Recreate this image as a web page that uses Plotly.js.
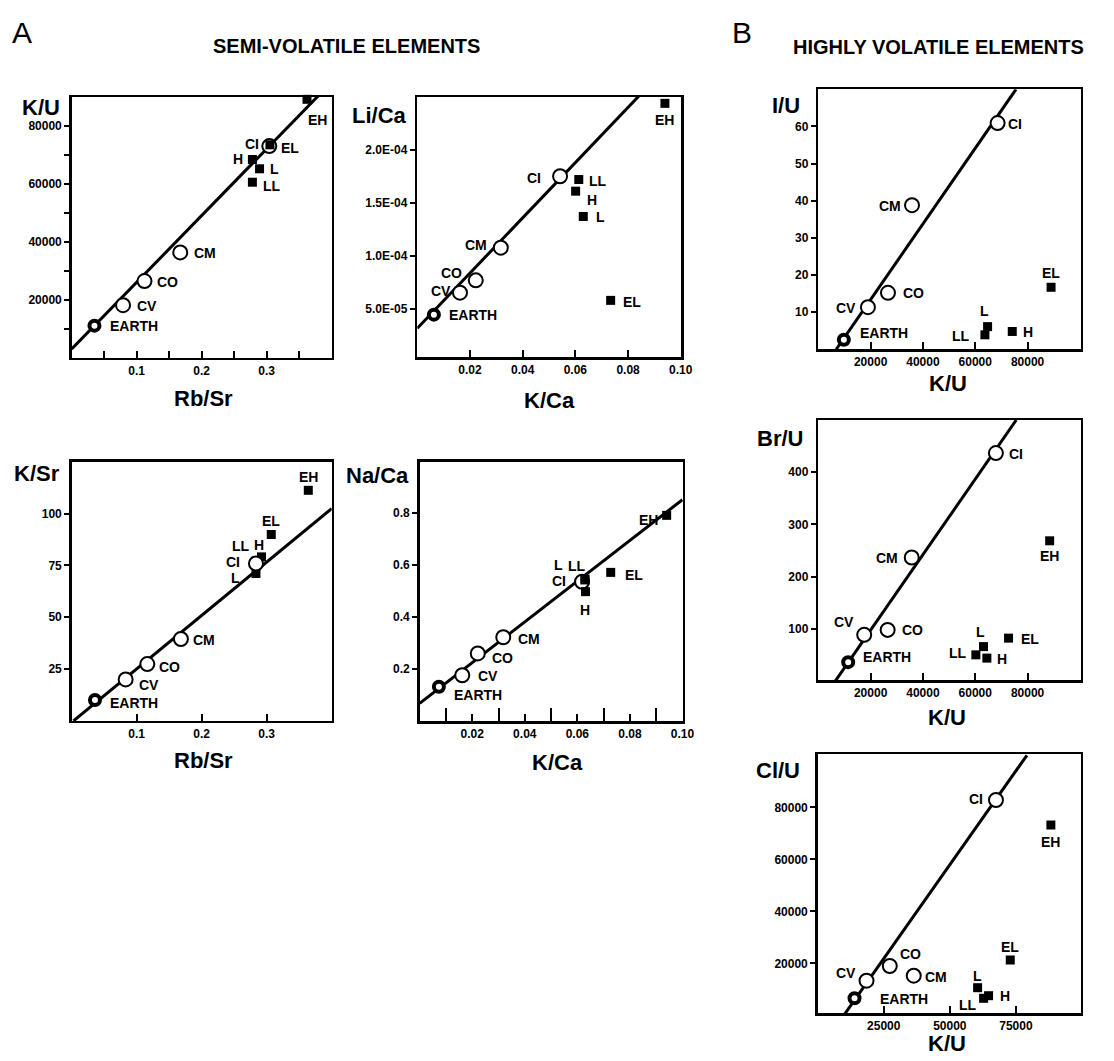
<!DOCTYPE html>
<html><head><meta charset="utf-8">
<script src="https://cdn.plot.ly/plotly-3.0.1.min.js"></script>
<style>html,body{margin:0;padding:0;background:#fff}#chart{width:1114px;height:1061px}</style>
</head><body><div id="chart"></div>
<script>
// ---------------- DATA ----------------
const names  = ['EARTH','CV','CO','CM','CI','H','L','LL','EL','EH'];
const groups = ['earth','carb','carb','carb','carb','ord','ord','ord','ens','ens'];

// A1: K/U vs Rb/Sr
const a1_rbsr = [0.035,0.079,0.112,0.167,0.304,0.278,0.289,0.278,0.305,0.362];
const a1_ku   = [11100,18150,26470,36370,73050,68440,65230,60590,73500,89200];
const a1_fitX = [0, 0.4];
const a1_fitY = [3040, 95160];

// A2: Li/Ca vs K/Ca
const a2_kca  = [0.0063,0.0162,0.0222,0.0317,0.0542,0.0601,0.0630,0.0613,0.0734,0.0940];
const a2_lica = [4.43e-5,6.51e-5,7.67e-5,1.076e-4,1.751e-4,1.61e-4,1.371e-4,1.72e-4,5.78e-5,2.44e-4];
const a2_fitX = [0, 0.1];
const a2_fitY = [3.14e-5, 2.924e-4];

// A3: K/Sr vs Rb/Sr
const a3_rbsr = [0.0358,0.083,0.1163,0.168,0.2835,0.292,0.2835,0.283,0.307,0.364];
const a3_ksr  = [10.1,20.0,27.4,39.5,75.9,79.1,71.1,77.0,89.9,111.2];
const a3_fitX = [0.0027, 0.4];
const a3_fitY = [0, 102.4];

// A4: Na/Ca vs K/Ca
const a4_kca  = [0.0073,0.0162,0.0221,0.0318,0.0618,0.0631,0.0629,0.0629,0.0727,0.0940];
const a4_naca = [0.132,0.176,0.260,0.322,0.535,0.497,0.545,0.542,0.571,0.790];
const a4_fitX = [0, 0.1];
const a4_fitY = [0.068, 0.85];

// B1: I/U vs K/U (no EH)
const b1_ku = [9770,18970,26630,35820,68540,74140,64710,63680,88970,null];
const b1_iu = [2.56,11.35,15.2,38.8,60.9,4.8,6.1,3.9,16.7,null];
const b1_fitX = [6860, 75560];
const b1_fitY = [0, 70];

// B2: Br/U vs K/U
const b2_ku  = [11420,17550,26510,35710,67890,64440,63140,60230,72720,88430];
const b2_bru = [36.2,88.5,98,236.6,436.6,43.9,66,50.2,82.2,268.6];
const b2_fitX = [6500, 75670];
const b2_fitY = [0, 500];

// B3: Cl/U vs K/U
const b3_ku  = [13930,18470,27270,36330,67450,64650,60500,62770,72850,88220];
const b3_clu = [6540,13310,18960,15230,82810,7540,10620,6540,21270,73190];
const b3_fitX = [9890, 79150];
const b3_fitY = [0, 100000];

// tick labels
const tRbSr = [0.1,0.2,0.3], tRbSrText = ['0.1','0.2','0.3'];
const tRbSrMinor = [0.05,0.15,0.25,0.35];
const tKU1 = [20000,40000,60000,80000], tKU1Text = ['20000','40000','60000','80000'];
const tKU1Minor = [10000,30000,50000,70000];
const tKCa = [0.02,0.04,0.06,0.08,0.1], tKCaText = ['0.02','0.04','0.06','0.08','0.10'];
const tKCaMinor = [0.01,0.03,0.05,0.07,0.09];
const tLiCa = [5e-5,1e-4,1.5e-4,2e-4], tLiCaText = ['5.0E-05','1.0E-04','1.5E-04','2.0E-04'];
const tKSr = [25,50,75,100], tKSrText = ['25','50','75','100'];
const tNaCa = [0.2,0.4,0.6,0.8], tNaCaText = ['0.2','0.4','0.6','0.8'];
const tKU = [20000,40000,60000,80000], tKUText = ['20000','40000','60000','80000'];
const tIU = [10,20,30,40,50,60], tIUText = ['10','20','30','40','50','60'];
const tBrU = [100,200,300,400], tBrUText = ['100','200','300','400'];
const tKU3 = [25000,50000,75000], tKU3Text = ['25000','50000','75000'];
const tClU = [20000,40000,60000,80000], tClUText = ['20000','40000','60000','80000'];

// ---------------- STYLE / LAYOUT ----------------
const W = 1114, H = 1061;
const FONT = 'Liberation Sans, Arial, Helvetica, sans-serif';
const xd = (a,b) => [a/W, b/W];
const yd = (top,bot) => [1-bot/H, 1-top/H];

// label offsets (px): [dx, dy(down), anchor]
const lab = {
 a1:{EARTH:[14,0,'left'],CV:[12,1,'left'],CO:[10,1,'left'],CM:[12,1,'left'],CI:[-8,-2,'right'],EL:[9,3,'left'],H:[-7,0,'right'],L:[8,0,'left'],LL:[9,4,'left'],EH:[10,21,'center']},
 a2:{EARTH:[13,0,'left'],CV:[-7,-2,'right'],CO:[-12,-7,'right'],CM:[-12,-3,'right'],CI:[-17,2,'right'],LL:[8,1,'left'],H:[9,9,'left'],L:[11,1,'left'],EL:[10,2,'left'],EH:[0,17,'center']},
 a3:{EARTH:[13,3,'left'],CV:[11,6,'left'],CO:[10,3,'left'],CM:[10,1,'left'],CI:[-14,-2,'right'],L:[-14,5,'right'],LL:[-15,-15,'center'],H:[-3,-12,'center'],EL:[0,-13,'center'],EH:[0,-13,'center']},
 a4:{EARTH:[13,8,'left'],CV:[14,1,'left'],CO:[12,5,'left'],CM:[13,2,'left'],CI:[-14,-1,'right'],LL:[-8,-14,'center'],L:[-26,-14,'center'],H:[0,18,'center'],EL:[12,3,'left'],EH:[-7,5,'right']},
 b1:{EARTH:[14,-7,'left'],CV:[-10,1,'right'],CO:[13,0,'left'],CM:[-9,1,'right'],CI:[8,1,'left'],L:[-3,-16,'center'],LL:[-13,1,'right'],H:[9,1,'left'],EL:[0,-14,'center']},
 b2:{EARTH:[13,-5,'left'],CV:[-8,-13,'right'],CO:[12,0,'left'],CM:[-12,0,'right'],CI:[11,1,'left'],EH:[0,15,'center'],EL:[10,1,'left'],L:[-3,-15,'center'],LL:[-7,-2,'right'],H:[8,1,'left']},
 b3:{EARTH:[23,1,'left'],CV:[-9,-8,'right'],CO:[8,-12,'left'],CM:[9,1,'left'],CI:[-11,-1,'right'],EH:[0,17,'center'],EL:[0,-13,'center'],L:[0,-12,'center'],H:[9,0,'left'],LL:[-5,7,'right']}
};

const panels = [
 {id:'a1', ax:'', x:a1_rbsr, y:a1_ku, fx:a1_fitX, fy:a1_fitY, squaresOnTop:true,
  dx:xd(71.7,331.7), dy:yd(97,357.8), xr:[0,0.4], yr:[0,90000],
  xt:[tRbSr,tRbSrText,tRbSrMinor,7], yt:[tKU1,tKU1Text,tKU1Minor]},
 {id:'a2', ax:'2', x:a2_kca, y:a2_lica, fx:a2_fitX, fy:a2_fitY, squaresOnTop:true,
  dx:xd(417.3,681), dy:yd(97,357.3), xr:[0,0.1001], yr:[4e-6,2.5e-4],
  xt:[tKCa,tKCaText,null], yt:[tLiCa,tLiCaText,null]},
 {id:'a3', ax:'3', x:a3_rbsr, y:a3_ksr, fx:a3_fitX, fy:a3_fitY, squaresOnTop:false,
  dx:xd(71.7,331.7), dy:yd(461.7,720.9), xr:[0,0.4], yr:[0,125],
  xt:[tRbSr,tRbSrText,null], yt:[tKSr,tKSrText,null]},
 {id:'a4', ax:'4', x:a4_kca, y:a4_naca, fx:a4_fitX, fy:a4_fitY, squaresOnTop:true,
  dx:xd(419.7,682.7), dy:yd(461.7,721.1), xr:[0,0.1001], yr:[0,0.996],
  xt:[tKCa,tKCaText,tKCaMinor,13], yt:[tNaCa,tNaCaText,null]},
 {id:'b1', ax:'5', x:b1_ku, y:b1_iu, fx:b1_fitX, fy:b1_fitY, squaresOnTop:true,
  dx:xd(818.3,1080.7), dy:yd(89.3,349.3), xr:[0,100300], yr:[0,70],
  xt:[tKU,tKUText,null], yt:[tIU,tIUText,null]},
 {id:'b2', ax:'6', x:b2_ku, y:b2_bru, fx:b2_fitX, fy:b2_fitY, squaresOnTop:true,
  dx:xd(818.3,1080.7), dy:yd(420,680), xr:[0,100300], yr:[2,500],
  xt:[tKU,tKUText,null], yt:[tBrU,tBrUText,null]},
 {id:'b3', ax:'7', x:b3_ku, y:b3_clu, fx:b3_fitX, fy:b3_fitY, squaresOnTop:true,
  dx:xd(817.7,1080.7), dy:yd(754,1013.3), xr:[0,99500], yr:[770,100500],
  xt:[tKU3,tKU3Text,null], yt:[tClU,tClUText,null]}
];

const traces = [];
const annotations = [];
const layout = {
  width:W, height:H, margin:{l:0,r:0,t:0,b:0},
  paper_bgcolor:'white', plot_bgcolor:'white', showlegend:false,
  font:{family:FONT, color:'black'}
};

function sel(p, grp){
  const xs=[], ys=[];
  names.forEach((n,i)=>{ if(grp.includes(groups[i]) && p.x[i]!=null){ xs.push(p.x[i]); ys.push(p.y[i]); } });
  return [xs, ys];
}

panels.forEach(p=>{
  const xa='x'+p.ax, ya='y'+p.ax;
  const xk='xaxis'+p.ax, yk='yaxis'+p.ax;
  const common = {showline:true, linecolor:'black', linewidth:2.5, mirror:true, showgrid:false, zeroline:false,
    tickcolor:'black', tickwidth:2, tickmode:'array', fixedrange:true,
    tickfont:{family:FONT, size:12, color:'black', weight:'bold'}};
  const xaxis = Object.assign({}, common, {domain:p.dx, range:p.xr, anchor:ya, ticks:'inside', ticklen:7,
    tickvals:p.xt[0], ticktext:p.xt[1]});
  if(p.xt[2]) xaxis.minor = {tickmode:'array', tickvals:p.xt[2], ticks:'inside', ticklen:p.xt[3], tickwidth:2, tickcolor:'black', showgrid:false};
  const yaxis = Object.assign({}, common, {domain:p.dy, range:p.yr, anchor:xa, ticks:'outside', ticklen:5,
    tickvals:p.yt[0], ticktext:p.yt[1]});
  if(p.yt[2]) yaxis.minor = {tickmode:'array', tickvals:p.yt[2], ticks:'outside', ticklen:5, tickwidth:2, tickcolor:'black', showgrid:false};
  layout[xk]=xaxis; layout[yk]=yaxis;

  traces.push({type:'scatter', mode:'lines', x:p.fx, y:p.fy, xaxis:xa, yaxis:ya,
    line:{color:'black', width:3}, hoverinfo:'skip'});
  const [cx,cy] = sel(p,['carb']);
  const [ex,ey] = sel(p,['earth']);
  const [sx,sy] = sel(p,['ord','ens']);
  const circ = {type:'scatter', mode:'markers', x:cx, y:cy, xaxis:xa, yaxis:ya,
    marker:{symbol:'circle', size:14, color:'white', line:{color:'black', width:2}}, cliponaxis:false};
  const earth = {type:'scatter', mode:'markers', x:ex, y:ey, xaxis:xa, yaxis:ya,
    marker:{symbol:'circle', size:10, color:'white', line:{color:'black', width:4}}, cliponaxis:false};
  const sq = {type:'scatter', mode:'markers', x:sx, y:sy, xaxis:xa, yaxis:ya,
    marker:{symbol:'square', size:9, color:'black', line:{width:0}}, cliponaxis:false};
  if(p.squaresOnTop){ traces.push(circ, earth, sq); } else { traces.push(sq, circ, earth); }

  names.forEach((n,i)=>{
    if(p.x[i]==null) return;
    const o = lab[p.id][n]; if(!o) return;
    annotations.push({x:p.x[i], y:p.y[i], xref:xa, yref:ya, text:n, showarrow:false,
      xanchor:o[2], yanchor:'middle', xshift:o[0], yshift:-o[1],
      font:{family:FONT, size:14, color:'black', weight:'bold'}});
  });
});

// axis titles and headers (paper coords from pixel positions)
function ptxt(text, px, py, size, anchor, weight){
  annotations.push({xref:'paper', yref:'paper', x:px/W, y:1-py/H, text:text, showarrow:false,
    xanchor:anchor, yanchor:'middle', font:{family:FONT, size:size, color:'black', weight:weight}});
}
ptxt('K/U', 62, 108, 22, 'right', 'bold');
ptxt('Li/Ca', 409, 115, 22, 'right', 'bold');
ptxt('K/Sr', 62, 473, 22, 'right', 'bold');
ptxt('Na/Ca', 411, 475, 22, 'right', 'bold');
ptxt('I/U', 802, 105, 22, 'right', 'bold');
ptxt('Br/U', 805, 438, 22, 'right', 'bold');
ptxt('Cl/U', 802, 770, 22, 'right', 'bold');

ptxt('Rb/Sr', 203, 398, 22, 'center', 'bold');
ptxt('K/Ca', 549, 400, 22, 'center', 'bold');
ptxt('Rb/Sr', 203, 760, 22, 'center', 'bold');
ptxt('K/Ca', 557, 762, 22, 'center', 'bold');
ptxt('K/U', 948, 383, 22, 'center', 'bold');
ptxt('K/U', 947, 717, 22, 'center', 'bold');
ptxt('K/U', 947, 1043, 22, 'center', 'bold');

ptxt('A', 22, 32, 30, 'center', 'normal');
ptxt('SEMI-VOLATILE ELEMENTS', 346, 46, 20, 'center', 'bold');
ptxt('B', 742, 33, 30, 'center', 'normal');
ptxt('HIGHLY VOLATILE ELEMENTS', 938, 47, 20, 'center', 'bold');

layout.annotations = annotations;
Plotly.newPlot('chart', traces, layout, {staticPlot:true, displayModeBar:false});
</script></body></html>
